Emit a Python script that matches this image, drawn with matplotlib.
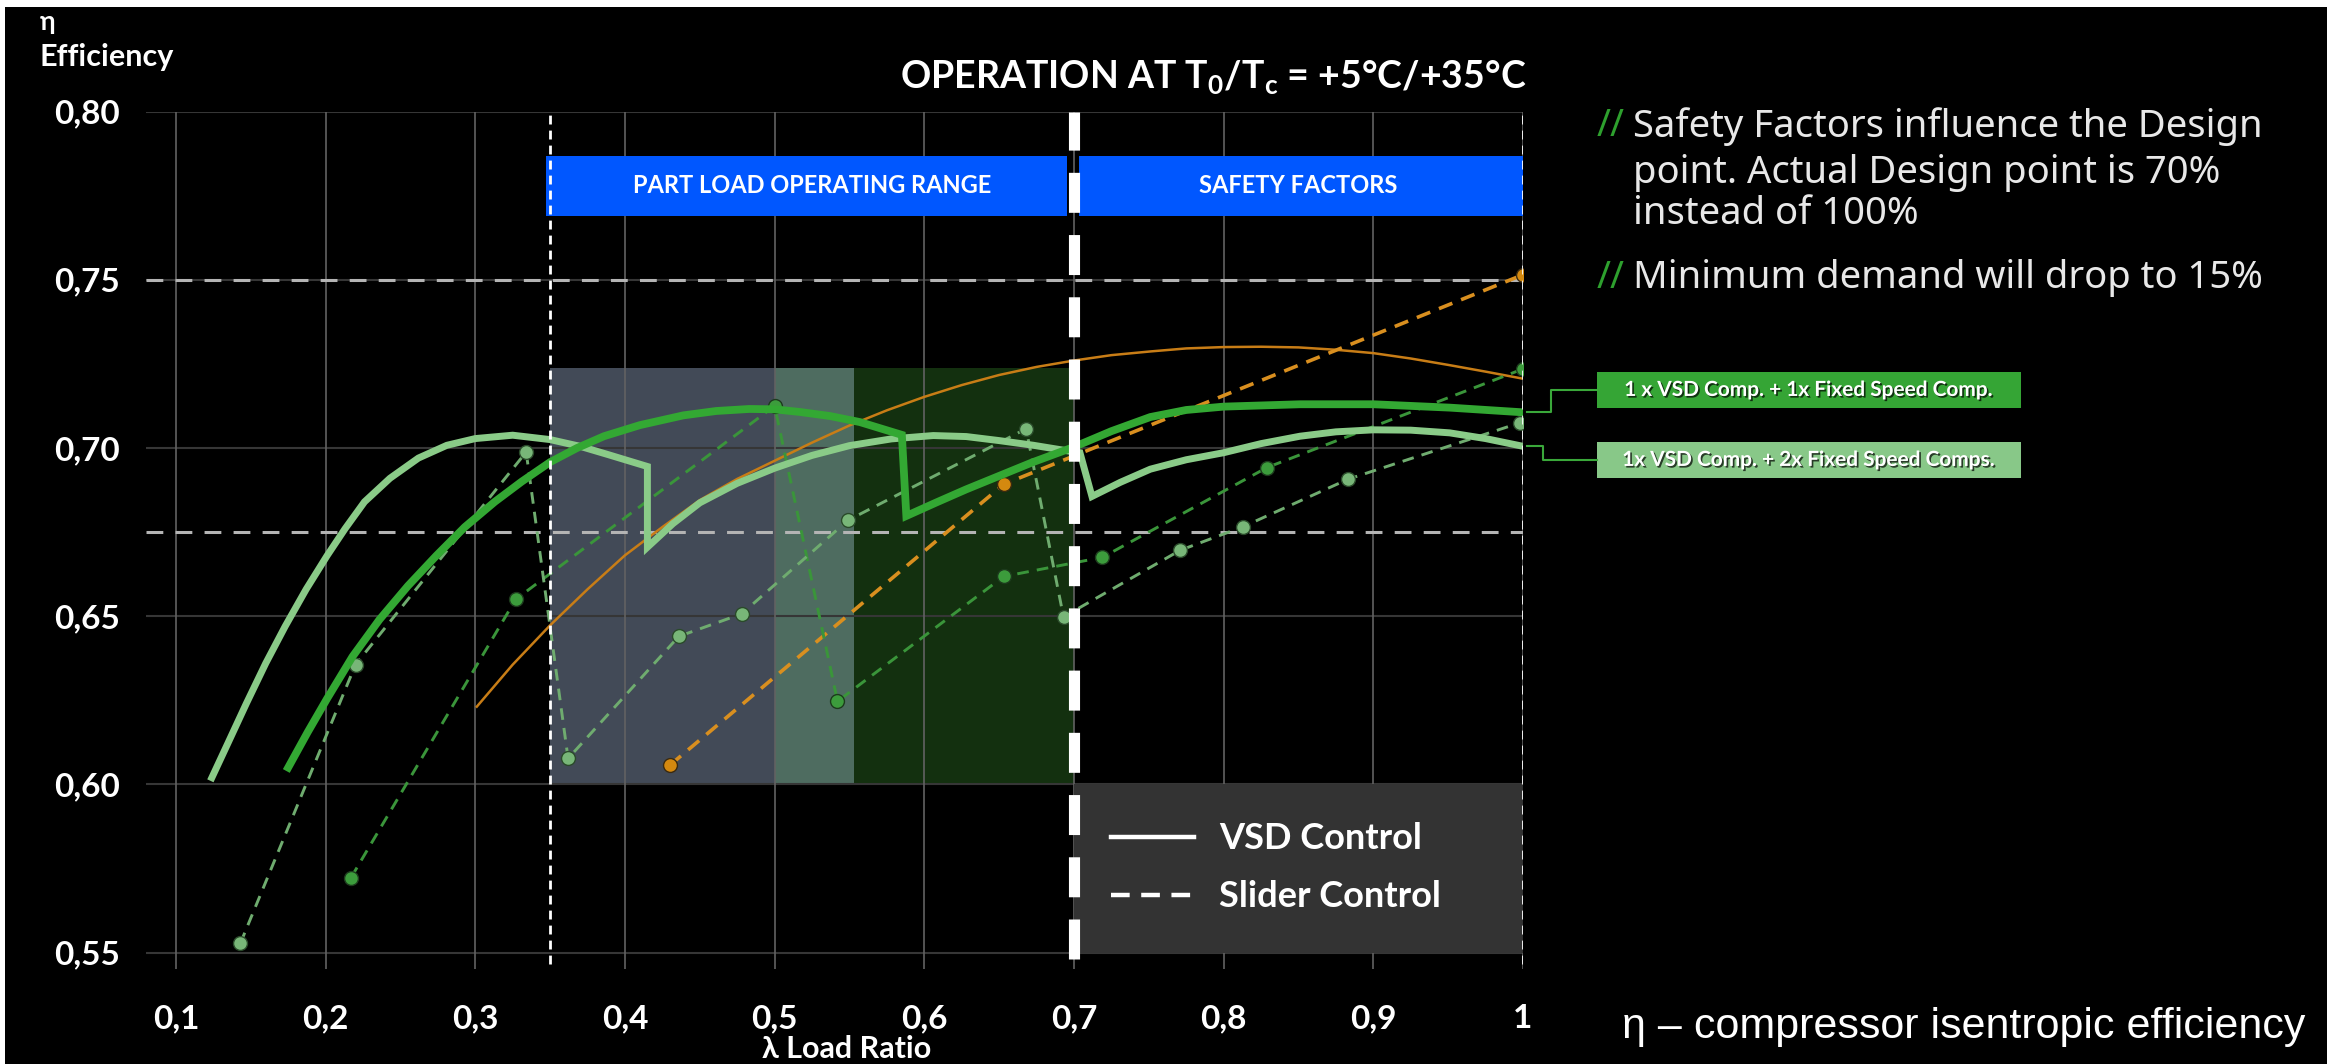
import matplotlib.pyplot as plt
import matplotlib.patheffects as pe
from matplotlib import font_manager as fm
from matplotlib.patches import Rectangle
from matplotlib.lines import Line2D

W, H = 2334, 1064

# VSD control, 1x VSD comp. + 2x fixed speed comps (light green, solid)
vsd2_x = [0.124, 0.135, 0.147, 0.160, 0.173, 0.187, 0.201, 0.213, 0.226, 0.243, 0.262, 0.281,
          0.300, 0.325, 0.350, 0.370, 0.389, 0.415,
          0.415, 0.432, 0.450, 0.475, 0.500, 0.525, 0.550, 0.578, 0.606, 0.628, 0.650, 0.673,
          0.695, 0.704,
          0.712, 0.731, 0.751, 0.775, 0.800, 0.825, 0.851, 0.875, 0.900, 0.925, 0.951, 0.975, 1.000]
vsd2_y = [0.602, 0.6125, 0.624, 0.636, 0.647, 0.658, 0.668, 0.676, 0.684, 0.691, 0.697, 0.7008,
          0.7028, 0.7038, 0.7025, 0.7005, 0.698, 0.6945,
          0.6705, 0.6775, 0.6837, 0.6895, 0.6940, 0.6978, 0.7007, 0.7027, 0.7037, 0.7034, 0.7022, 0.7008,
          0.6992, 0.6986,
          0.6856, 0.6898, 0.6937, 0.6965, 0.6986, 0.7013, 0.7035, 0.7048, 0.7054, 0.7053, 0.7045, 0.7028, 0.7005]

# VSD control, 1x VSD comp. + 1x fixed speed comp (green, solid)
vsd1_x = [0.175, 0.188, 0.201, 0.218, 0.236, 0.255, 0.274, 0.293, 0.313, 0.331, 0.350, 0.368,
          0.386, 0.410, 0.439, 0.461, 0.483, 0.500, 0.517, 0.537, 0.557, 0.585,
          0.588, 0.608, 0.628, 0.650, 0.672, 0.700, 0.725, 0.751, 0.775, 0.800, 0.851, 0.900,
          0.951, 1.000]
vsd1_y = [0.605, 0.6155, 0.6255, 0.638, 0.649, 0.659, 0.668, 0.6765, 0.684, 0.690, 0.6958, 0.700,
          0.7035, 0.7068, 0.7097, 0.711, 0.7116, 0.7115, 0.7107, 0.7095, 0.7077, 0.7039,
          0.6798, 0.6838, 0.6877, 0.6917, 0.6957, 0.7003, 0.7050, 0.7092, 0.7113, 0.7123, 0.7130, 0.7130,
          0.7120, 0.7106]

# VSD control, single compressor (orange, solid)
vsd0_x = [0.301, 0.325, 0.350, 0.375, 0.400, 0.425, 0.450, 0.475, 0.500, 0.525, 0.550, 0.575,
          0.600, 0.625, 0.650, 0.675, 0.700, 0.725, 0.751, 0.775, 0.800, 0.825, 0.850, 0.875,
          0.900, 0.925, 0.950, 0.975, 1.000]
vsd0_y = [0.6231, 0.6356, 0.6473, 0.658, 0.6681, 0.6765, 0.6845, 0.6908, 0.6962, 0.7016, 0.7067, 0.7112,
          0.7152, 0.7187, 0.7217, 0.7241, 0.7260, 0.7276, 0.7287, 0.7296, 0.7300, 0.7301, 0.7299, 0.7292,
          0.7282, 0.7266, 0.7247, 0.7227, 0.7206]

# slider control (dashed, with markers)
sl1_x = [0.217, 0.327, 0.500, 0.542, 0.653, 0.719, 0.829, 1.000]
sl1_y = [0.5723, 0.6550, 0.7125, 0.6247, 0.6618, 0.6675, 0.6942, 0.7235]

sl2_x = [0.143, 0.220, 0.334, 0.362, 0.436, 0.478, 0.549, 0.668, 0.693, 0.771, 0.813, 0.883, 0.998]
sl2_y = [0.5527, 0.6356, 0.6988, 0.6077, 0.6440, 0.6507, 0.6785, 0.7057, 0.6498, 0.6696, 0.6766, 0.6907, 0.7075]

sl0_x = [0.430, 0.653, 1.000]
sl0_y = [0.6057, 0.6892, 0.7515]

x_ticks = [0.1, 0.2, 0.3, 0.4, 0.5, 0.6, 0.7, 0.8, 0.9, 1.0]
x_labels = ['0,1', '0,2', '0,3', '0,4', '0,5', '0,6', '0,7', '0,8', '0,9', '1']
y_ticks = [0.55, 0.60, 0.65, 0.70, 0.75, 0.80]
y_labels = ['0,55', '0,60', '0,65', '0,70', '0,75', '0,80']
ref_levels = [0.75, 0.675]

part_load = (0.35, 0.70)
safety = (0.70, 1.00)


def bold_family(names):
    # first family that really has a bold face installed
    for n in names:
        for f in fm.fontManager.ttflist:
            w = f.weight
            if isinstance(w, str):
                w = {'bold': 700, 'semibold': 600, 'demibold': 600, 'extra bold': 800,
                     'heavy': 800, 'black': 900}.get(w.lower(), 400)
            if f.name == n and w >= 600:
                return n
    return 'DejaVu Sans'


BOLD = [bold_family(['Lato', 'Roboto', 'Noto Sans', 'Open Sans']), 'DejaVu Sans']
plt.rcParams['font.family'] = ['Noto Sans', 'DejaVu Sans']
plt.rcParams['mathtext.default'] = 'regular'


def fx(px):
    return px / W


def fy(py):
    return 1 - py / H


fig = plt.figure(figsize=(W / 100, H / 100), dpi=100, facecolor='white')
fig.patches.append(Rectangle((fx(5), 0), fx(W - 12), 1 - 7 / H, transform=fig.transFigure,
                             facecolor='black', edgecolor='none', zorder=-10))

ax = fig.add_axes([fx(146), fy(969.4), fx(1377), 857.8 / H])
ax.set_facecolor('none')
ax.set_xlim(0.08, 1.0)
ax.set_ylim(0.545, 0.80)
for s in ax.spines.values():
    s.set_visible(False)

ax.set_xticks(x_ticks)
ax.set_xticklabels(x_labels, fontweight='bold', family=BOLD)
ax.set_yticks(y_ticks)
ax.set_yticklabels(y_labels, fontweight='bold', family=BOLD)
ax.tick_params(axis='both', length=0, labelcolor='white', labelsize=24)
ax.tick_params(axis='y', pad=19)
ax.tick_params(axis='x', pad=25)

# grid
ax.hlines(y_ticks, 0.08, 1.0, colors='#363636', lw=1.5, zorder=2)
ax.vlines(x_ticks, 0.545, 0.80, colors='#626262', lw=1.2, zorder=2)
ax.hlines(ref_levels, 0.08, 1.0, colors='#b4b4b4', lw=2.2, linestyles=(0, (5.5, 4)), zorder=3)

# shaded operating range
ax.add_patch(Rectangle((0.35, 0.60), 0.15, 0.1237, fc='#424a57', ec='none', zorder=1))
ax.add_patch(Rectangle((0.50, 0.60), 0.0527, 0.1237, fc='#4e6c60', ec='none', zorder=1))
ax.add_patch(Rectangle((0.5527, 0.60), 0.1473, 0.1237, fc='#13300f', ec='none', zorder=1))

# blue headers
ax.add_patch(Rectangle((part_load[0] - 0.003, 0.769), part_load[1] - part_load[0] - 0.0015, 0.0178,
                       fc='#0057ff', ec='none', zorder=3))
ax.add_patch(Rectangle((safety[0] + 0.0035, 0.769), safety[1] - safety[0] - 0.0035, 0.0178,
                       fc='#0057ff', ec='none', zorder=3))
ax.text(sum(part_load) / 2, 0.7779, 'PART LOAD OPERATING RANGE', color='white', fontsize=17,
        fontweight='bold', family=BOLD, ha='center', va='center', zorder=4)
ax.text(sum(safety) / 2, 0.7779, 'SAFETY FACTORS', color='white', fontsize=17,
        fontweight='bold', family=BOLD, ha='center', va='center', zorder=4)

# legend box
ax.add_patch(Rectangle((0.70, 0.55), 0.30, 0.05, fc='#333333', ec='none', zorder=3))

# curves
ax.plot(vsd0_x, vsd0_y, color='#c87d16', lw=1.8, zorder=4)
ax.plot(sl0_x, sl0_y, color='#d98f1f', lw=2.6, ls=(0, (4, 2.6)), marker='o', ms=10,
        mfc='#d4890f', mec='#3a2a10', mew=1, zorder=5)
ax.plot(sl1_x, sl1_y, color='#3a953a', lw=2.1, ls=(0, (4, 2.8)), marker='o', ms=10,
        mfc='#3c9c3c', mec='#1d3b1d', mew=1, zorder=5)
ax.plot(sl2_x, sl2_y, color='#6fac6f', lw=2.1, ls=(0, (4, 2.8)), marker='o', ms=10,
        mfc='#78b678', mec='#2a4a2a', mew=1, zorder=5)
ax.plot(vsd2_x, vsd2_y, color='#8acb88', lw=5, solid_joinstyle='miter', zorder=6)
ax.plot(vsd1_x, vsd1_y, color='#33a833', lw=5.6, solid_joinstyle='miter', zorder=7)

# range borders
ax.vlines([part_load[0], safety[1]], 0.5465, 0.80, colors='white', lw=2, linestyles=(0, (3.2, 2.2)), zorder=8)
ax.vlines(safety[0], 0.548, 0.80, colors='white', lw=8, linestyles=(0, (3.6, 2.0)), zorder=9)

# series labels on the right
box_x0, box_x1 = 1.0495, 1.3328
boxes = [(0.7119, 0.7226, '#35a535', '1 x VSD Comp. + 1x Fixed Speed Comp.', vsd1_y[-1], 1.0184),
         (0.6911, 0.7018, '#88c888', '1x VSD Comp. + 2x Fixed Speed Comps.', vsd2_y[-1], 1.0131)]
for y0, y1, fc, txt, yend, xk in boxes:
    ax.add_patch(Rectangle((box_x0, y0), box_x1 - box_x0, y1 - y0, fc=fc, ec='none',
                           clip_on=False, zorder=5))
    ym = (y0 + y1) / 2
    ax.plot([1.003, xk, xk, box_x0], [yend, yend, ym, ym], color='#3aa83a', lw=1.5,
            clip_on=False, zorder=5)
    t = ax.text((box_x0 + box_x1) / 2, ym, txt, color='white', fontsize=15, fontweight='bold',
                family=BOLD, ha='center', va='center', clip_on=False, zorder=6)
    t.set_path_effects([pe.SimplePatchShadow(offset=(1.2, -1.2), shadow_rgbFace='black', alpha=0.7),
                        pe.Normal()])

# legend
handles = [Line2D([], [], color='white', lw=3.2),
           Line2D([], [], color='white', lw=3.2, ls=(0, (4.2, 2.6)))]
leg = ax.legend(handles, ['VSD Control', 'Slider Control'], loc='center left',
                bbox_to_anchor=(0.703, 0.5752), bbox_transform=ax.transData, frameon=False,
                prop=dict(family=BOLD, weight='bold', size=26), labelcolor='white', handlelength=2.3,
                handletextpad=0.7, labelspacing=0.7)
leg.set_zorder(10)

# texts
fig.text(fx(40), fy(22), 'η', color='white', fontsize=19, fontweight='bold', family=BOLD, va='center')
fig.text(fx(40), fy(57), 'Efficiency', color='white', fontsize=22, fontweight='bold', family=BOLD,
         va='center')
fig.text(fx(847), fy(1049), 'λ Load Ratio', color='white', fontsize=22, fontweight='bold', family=BOLD,
         ha='center', va='center')
fig.text(fx(1526), fy(77), 'OPERATION AT T$_0$/T$_c$ = +5°C/+35°C', color='white', fontsize=27,
         fontweight='bold', family=BOLD, ha='right', va='center')

notes = [(126.5, True, 'Safety Factors influence the Design'),
         (172.7, False, 'point. Actual Design point is 70%'),
         (214, False, 'instead of 100%'),
         (278, True, 'Minimum demand will drop to 15%')]
for py, slash, txt in notes:
    if slash:
        fig.text(fx(1597), fy(py), '//', color='#2ea02e', fontsize=27, va='center')
    fig.text(fx(1633), fy(py), txt, color='#e8e8e8', fontsize=27.5, va='center')

fig.text(fx(1622), fy(1027), 'η – compressor isentropic efficiency', color='white', fontsize=31,
         family=['Liberation Sans', 'DejaVu Sans'], va='center')

fig.savefig('out.png', dpi=100, facecolor=fig.get_facecolor())
